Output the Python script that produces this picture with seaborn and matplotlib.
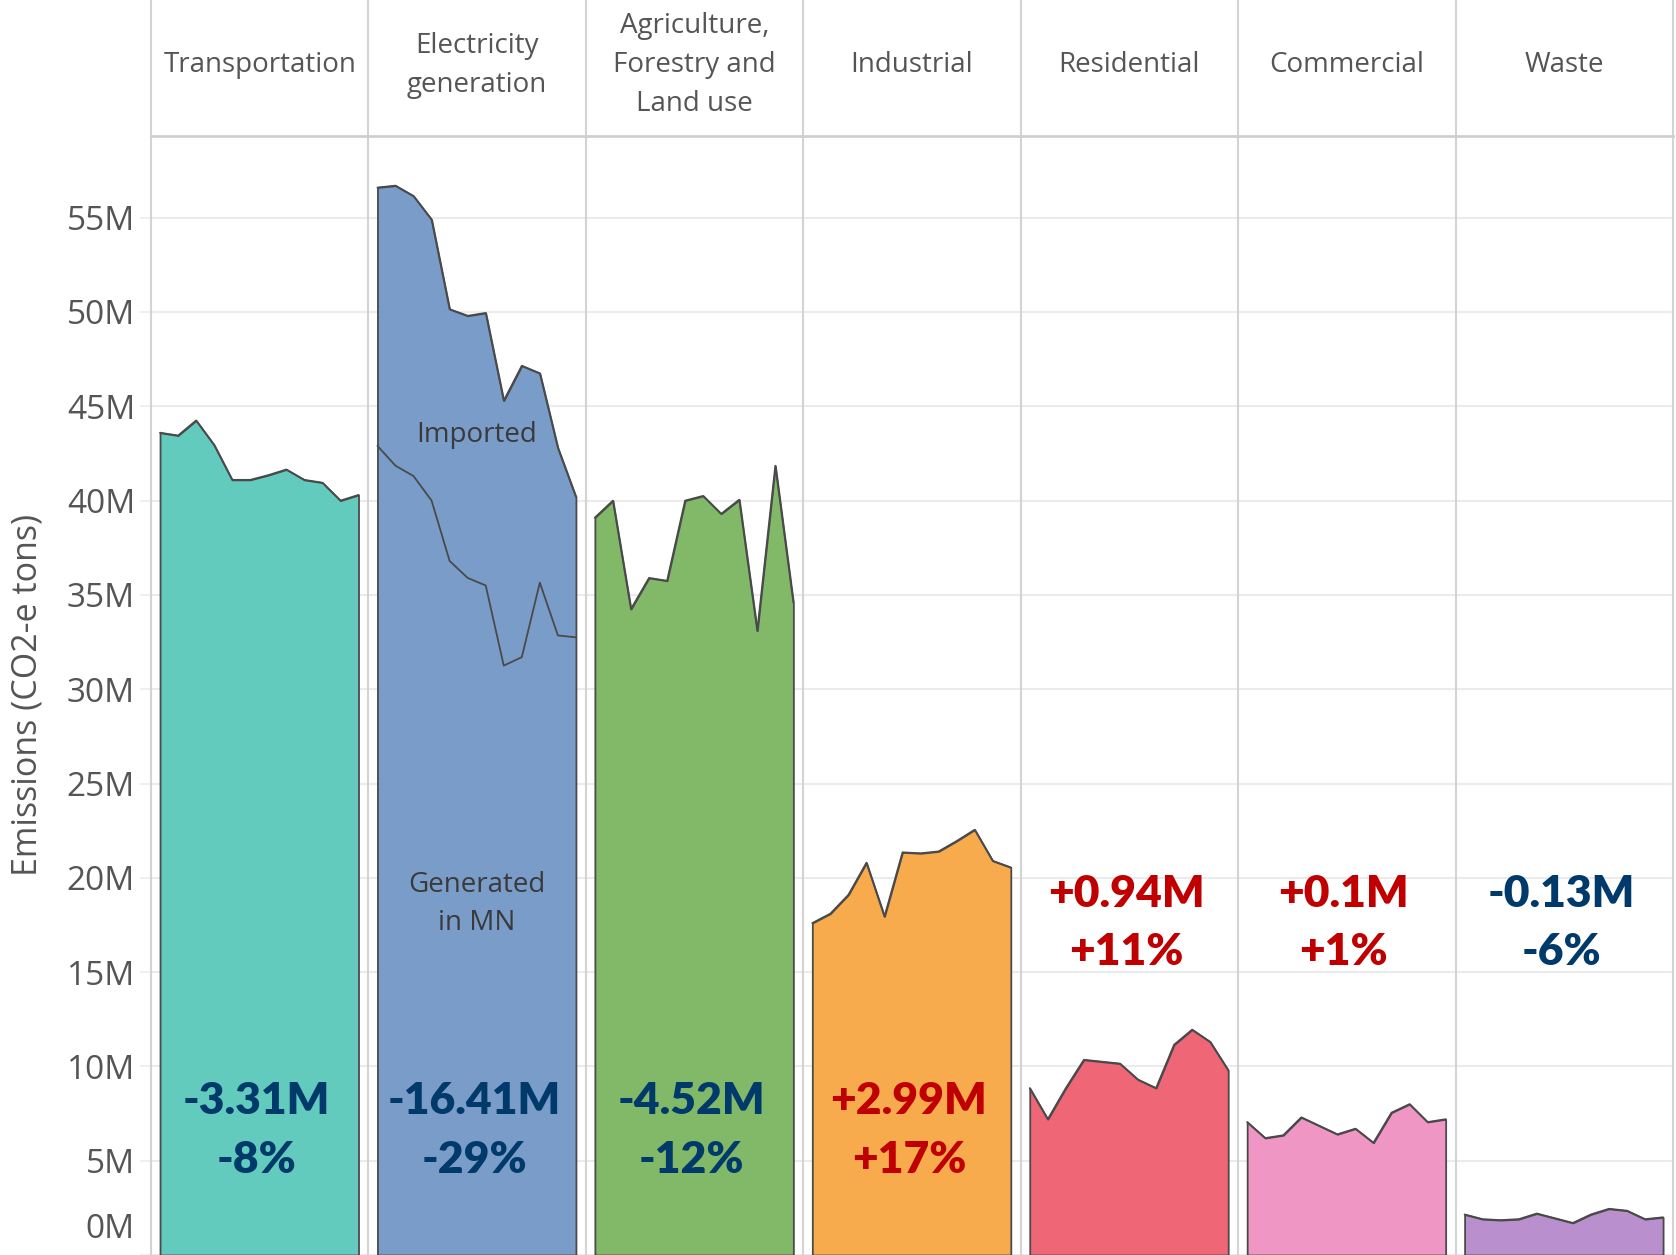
import numpy as np
import pandas as pd
import seaborn as sns
import matplotlib.pyplot as plt

# Emissions by sector, millions of CO2-e tons
years = list(range(2005, 2017))
sectors = ["Transportation", "Electricity\ngeneration", "Agriculture,\nForestry and\nLand use",
           "Industrial", "Residential", "Commercial", "Waste"]
transportation = [43.6, 43.45, 44.25, 42.95, 41.1, 41.1, 41.35, 41.65, 41.1, 40.95, 40.0, 40.3]
electricity_total = [56.6, 56.7, 56.15, 54.9, 50.15, 49.8, 49.95, 45.3, 47.15, 46.75, 42.8, 40.2]
electricity_mn = [42.9, 41.85, 41.3, 40.0, 36.8, 35.9, 35.5, 31.25, 31.7, 35.65, 32.85, 32.75]
agriculture = [39.1, 40.0, 34.25, 35.9, 35.75, 40.0, 40.25, 39.3, 40.05, 33.1, 41.85, 34.6]
industrial = [17.6, 18.1, 19.1, 20.8, 17.95, 21.35, 21.3, 21.4, 21.95, 22.55, 20.9, 20.55]
residential = [8.85, 7.2, 8.85, 10.35, 10.25, 10.15, 9.3, 8.85, 11.15, 11.95, 11.3, 9.8]
commercial = [7.05, 6.2, 6.35, 7.3, 6.85, 6.4, 6.7, 5.95, 7.55, 8.0, 7.05, 7.2]
waste = [2.15, 1.9, 1.85, 1.9, 2.2, 1.95, 1.7, 2.15, 2.45, 2.35, 1.9, 2.0]
change_m = [-3.31, -16.41, -4.52, 2.99, 0.94, 0.1, -0.13]
change_pct = [-8, -29, -12, 17, 11, 1, -6]
colors = ["#62CBBE", "#7A9CC9", "#81B968", "#F7AB4D", "#EF6677", "#F096C4", "#B98FCE"]

series = [transportation, electricity_total, agriculture, industrial, residential, commercial, waste]
rows = []
for name, vals in zip(sectors, series):
    for y, v in zip(years, vals):
        rows.append({'sector': name, 'year': y, 'value': v})
df = pd.DataFrame(rows)
df_mn = pd.DataFrame({'year': years, 'value': electricity_mn})

sns.set_theme(style="white")
plt.rcParams['font.family'] = ['Open Sans', 'DejaVu Sans']

W, H = 1676, 1255
fig = plt.figure(figsize=(W / 100, H / 100), dpi=100)
gs = fig.add_gridspec(2, 7, left=151 / W, right=1673 / W, top=1.0, bottom=0.0,
                      height_ratios=[136, 1119], hspace=0, wspace=0)

divider = '#d3d3d3'
grid_c = '#ebebeb'
px_per_m = 18.86
ytop = 1119 / px_per_m

for i, name in enumerate(sectors):
    hax = fig.add_subplot(gs[0, i])
    ax = fig.add_subplot(gs[1, i])
    sub = df[df['sector'] == name]

    # header cell
    hax.set_xticks([])
    hax.set_yticks([])
    for s in ['top', 'bottom', 'right']:
        hax.spines[s].set_visible(False)
    hax.spines['left'].set_color(divider)
    hax.spines['left'].set_linewidth(1.5)
    if i == len(sectors) - 1:
        hax.spines['right'].set_visible(True)
        hax.spines['right'].set_color(divider)
        hax.spines['right'].set_linewidth(1.5)
    hax.text(0.5, 0.52, name, ha='center', va='center', fontsize=20, color='#555555',
             linespacing=1.52, transform=hax.transAxes)

    # area
    ax.fill_between(sub['year'], sub['value'], color=colors[i], edgecolor='#4a4a4a',
                    linewidth=1.3, zorder=2)
    sns.lineplot(data=sub, x='year', y='value', ax=ax, color='#4a4a4a', linewidth=1.3, zorder=3)
    if i == 1:
        sns.lineplot(data=df_mn, x='year', y='value', ax=ax, color='#4a4a4a', linewidth=1.3, zorder=3)
        xm = np.mean(years)
        ax.text(xm, 43.5, "Imported", ha='center', va='center', fontsize=20, color='#3a3a3a', zorder=4)
        ax.text(xm, 18.6, "Generated\nin MN", ha='center', va='center', fontsize=20,
                color='#3a3a3a', linespacing=1.5, zorder=4)

    ax.set_xlim(years[0] - 0.5, years[-1] + 0.55)
    ax.set_ylim(0, ytop)
    ax.set_yticks(range(0, 60, 5))
    ax.set_xticks([])
    ax.set_xlabel('')
    ax.set_ylabel('')
    ax.yaxis.grid(True, color=grid_c, linewidth=1.5)
    ax.set_axisbelow(True)
    for s in ['bottom', 'right']:
        ax.spines[s].set_visible(False)
    ax.spines['left'].set_color(divider)
    ax.spines['left'].set_linewidth(1.5)
    ax.spines['top'].set_color('#cfcfcf')
    ax.spines['top'].set_linewidth(2)
    if i == len(sectors) - 1:
        ax.spines['right'].set_visible(True)
        ax.spines['right'].set_color(divider)
        ax.spines['right'].set_linewidth(1.5)

    if i == 0:
        ax.set_yticklabels([''] + [f"{v}M" for v in range(5, 60, 5)])
        ax.tick_params(axis='y', left=True, length=8, width=1.1, color=grid_c, pad=3.5,
                       labelsize=24, labelcolor='#555555')
        ax.annotate("0M", xy=(0, 0), xycoords=('axes fraction', 'data'), xytext=(-17, 26),
                    textcoords='offset pixels', ha='right', va='center', fontsize=24,
                    color='#555555', annotation_clip=False)
    else:
        ax.tick_params(axis='y', left=False, labelleft=False)

    # change labels
    c = '#C00000' if change_m[i] > 0 else '#003A6B'
    if min(series[i]) > 12:
        y1, y2 = 7.5, 4.35
    else:
        y1, y2 = 18.45, 15.4
    xm = np.mean(years) - 0.15
    ax.text(xm, y1, f"{change_m[i]:+g}M", ha='center', va='baseline', fontsize=32,
            fontweight='heavy', color=c, family=['Lato', 'DejaVu Sans'], zorder=5)
    ax.text(xm, y2, f"{change_pct[i]:+d}%", ha='center', va='baseline', fontsize=32,
            fontweight='heavy', color=c, family=['Lato', 'DejaVu Sans'], zorder=5)

fig.text(27 / W, 1 - 695 / H, "Emissions (CO2-e tons)", rotation=90, ha='center', va='center',
         fontsize=24.5, color='#555555')

fig.savefig('out.png', dpi=100)
